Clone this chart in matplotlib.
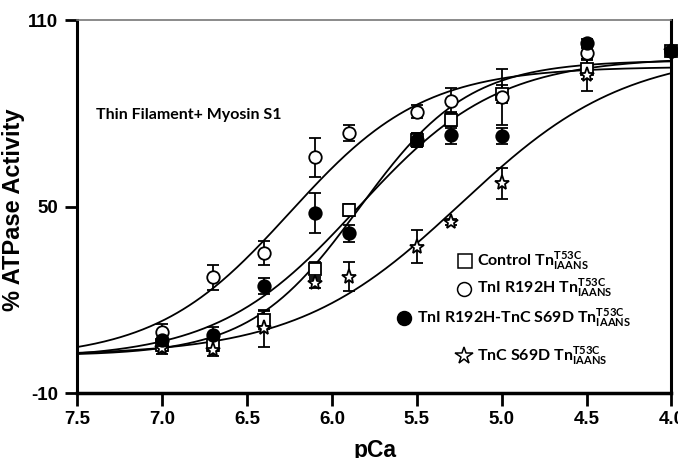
import numpy as np
import matplotlib
matplotlib.use("Agg")
import matplotlib.pyplot as plt

plt.rcParams['mathtext.fontset'] = 'custom'
plt.rcParams['mathtext.rm'] = 'Lato:bold'
plt.rcParams['mathtext.bf'] = 'Lato:bold'

# ---- data ----
pca = [7.0, 6.7, 6.4, 6.1, 5.9, 5.5, 5.3, 5.0, 4.5, 4.0]

control = [5.5, 5.4, 13.5, 29.8, 48.9, 71.4, 77.8, 86.2, 94.1, 100]
control_err = [2.0, 2.0, 3.0, 2.4, 2.0, 2.4, 2.5, 3.0, 3.0, 0]

r192h = [9.7, 27.3, 35.1, 65.8, 73.7, 80.5, 84.0, 85.1, 99.3, 100]
r192h_err = [2.5, 4.0, 3.8, 6.3, 2.5, 2.0, 4.0, 9.0, 2.0, 0]

r192h_s69d = [7.0, 8.6, 24.4, 47.8, 41.4, 71.4, 73.0, 72.7, 102.5, 100]
r192h_s69d_err = [2.5, 2.5, 2.7, 6.4, 2.7, 2.4, 3.0, 2.5, 1.5, 0]

s69d = [4.5, 3.8, 10.8, 25.3, 27.4, 37.1, 45.1, 57.5, 92.3, 100]
s69d_err = [2.0, 2.0, 6.0, 1.5, 4.6, 5.4, 1.0, 5.0, 5.0, 0]

# Hill fit parameters: (min, max, pCa50, nH)
fit_control = (2.0, 97.0, 5.84, 1.35)
fit_r192h = (1.0, 95.0, 6.25, 1.10)
fit_r192h_s69d = (1.0, 98.0, 5.85, 1.05)
fit_s69d = (2.0, 100.0, 5.24, 0.894)

legend_labels = [r"Control Tn$^{\mathbf{T53C}}_{\mathbf{IAANS}}$",
                 r"TnI R192H Tn$^{\mathbf{T53C}}_{\mathbf{IAANS}}$",
                 r"TnI R192H-TnC S69D Tn$^{\mathbf{T53C}}_{\mathbf{IAANS}}$",
                 r"TnC S69D Tn$^{\mathbf{T53C}}_{\mathbf{IAANS}}$"]

xticks = [7.5, 7.0, 6.5, 6.0, 5.5, 5.0, 4.5, 4.0]
yticks = [-10, 50, 110]


def hill(x, p):
    lo, hi, p50, n = p
    return lo + (hi - lo) / (1 + 10 ** (n * (x - p50)))


fig = plt.figure(figsize=(6.78, 4.58), dpi=100)
ax = fig.add_axes([0.1143, 0.1419, 0.8761, 0.8144])

xs = np.linspace(7.5, 4.0, 400)
for p in [fit_control, fit_r192h, fit_r192h_s69d, fit_s69d]:
    ax.plot(xs, hill(xs, p), color='black', lw=1.3, zorder=2)

series = [
    (control, control_err, dict(marker='s', mfc='white', ms=8.5)),
    (s69d, s69d_err, dict(marker='*', mfc='white', ms=11)),
    (r192h, r192h_err, dict(marker='o', mfc='white', ms=9)),
    (r192h_s69d, r192h_s69d_err, dict(marker='o', mfc='black', ms=9)),
]
for vals, errs, st in series:
    ax.errorbar(pca, vals, yerr=errs, fmt='none', ecolor='black',
                elinewidth=1.3, capsize=4.5, capthick=1.3, zorder=3,
                clip_on=False)
    ax.plot(pca, vals, linestyle='none', color='black', mec='black',
            mew=1.3, zorder=4, clip_on=False, **st)

ax.set_xlim(7.5, 4.0)
ax.set_ylim(-10, 110)
ax.set_xticks(xticks)
ax.set_xticklabels([f"{t:.1f}" for t in xticks])
ax.set_yticks(yticks)
ax.set_yticklabels([str(t) for t in yticks])

for lab in ax.get_xticklabels() + ax.get_yticklabels():
    lab.set_fontfamily('Liberation Sans')
    lab.set_fontweight('bold')
    lab.set_fontsize(13.5)
ax.tick_params(axis='both', direction='out', length=9, width=2, pad=4)
ax.tick_params(axis='y', pad=5)

ax.set_xlabel("pCa", fontfamily='Liberation Sans', fontweight='bold',
              fontsize=16.5, labelpad=8)
ax.set_ylabel("% ATPase Activity", fontfamily='Liberation Sans',
              fontweight='bold', fontsize=17)
ax.yaxis.set_label_coords(-0.088, 0.49)

ax.spines['left'].set_linewidth(2.2)
ax.spines['bottom'].set_linewidth(2.5)
ax.spines['right'].set_linewidth(2.2)
ax.spines['top'].set_linewidth(1.2)
ax.spines['top'].set_color('#777777')

ax.text(0.031, 0.745, "Thin Filament+ Myosin S1", transform=ax.transAxes,
        fontfamily='Lato', fontweight='bold', fontsize=11.5, va='center')

leg_markers = [dict(marker='s', mfc='white', ms=10),
               dict(marker='o', mfc='white', ms=10),
               dict(marker='o', mfc='black', ms=10),
               dict(marker='*', mfc='white', ms=13)]
leg_pos = [(0.652, 0.354), (0.651, 0.279), (0.550, 0.201), (0.651, 0.099)]
for (mx, my), st, lab in zip(leg_pos, leg_markers, legend_labels):
    ax.plot([mx], [my], transform=ax.transAxes, linestyle='none',
            color='black', mec='black', mew=1.1, clip_on=False, **st)
    ax.text(mx + 0.021, my, lab, transform=ax.transAxes, fontfamily='Lato',
            fontweight='bold', fontsize=11.5, va='center')

fig.savefig("out.png", dpi=100)
